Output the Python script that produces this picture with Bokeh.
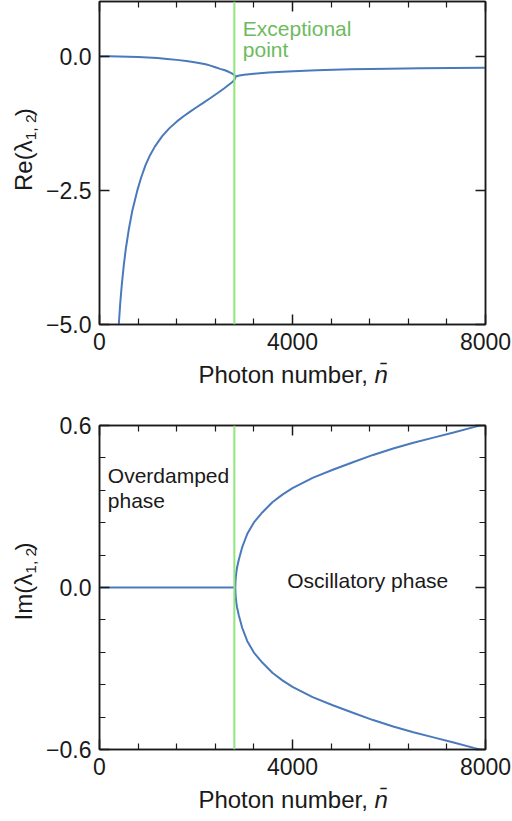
import math
from bokeh.plotting import figure
from bokeh.layouts import column, row
from bokeh.models import (Range1d, LinearAxis, FixedTicker, CustomJSTickFormatter, Span, Label,
                          CustomLabelingPolicy)
from bokeh.embed import file_html
from bokeh.resources import INLINE

# ---- data ----
x_major = [0, 4000, 8000]
x_minor = [800, 1600, 2400, 3200, 4800, 5600, 6400, 7200]
re_major = [-5.0, -2.5, 0.0]
im_major = [-0.6, 0.0, 0.6]
im_minor = [-0.48, -0.36, -0.24, -0.12, 0.12, 0.24, 0.36, 0.48]

exceptional_n = 2795

n_re_upper = [0, 200, 400, 600, 800, 1000, 1200, 1400, 1600, 1800, 2000, 2200, 2300, 2400, 2500,
              2600, 2650, 2700, 2740, 2770, 2790, 2805, 2812, 2815]
re_upper = [0.0, -0.001, -0.004, -0.009, -0.015, -0.024, -0.035, -0.05, -0.068, -0.09, -0.118, -0.15,
            -0.175, -0.205, -0.235, -0.262, -0.28, -0.30, -0.318, -0.335, -0.35, -0.364, -0.375, -0.39]

n_re_lower = [400, 430, 460, 504, 550, 607, 680, 781, 860, 954, 1050, 1150, 1300, 1450, 1611, 1750,
              1886, 2020, 2142, 2300, 2450, 2580, 2680, 2740, 2770, 2790, 2805, 2812, 2815]
re_lower = [-5.0, -4.60, -4.28, -3.89, -3.56, -3.23, -2.88, -2.51, -2.27, -2.03, -1.84, -1.68, -1.49,
            -1.34, -1.21, -1.113, -1.027, -0.947, -0.874, -0.779, -0.686, -0.601, -0.531, -0.49,
            -0.468, -0.448, -0.427, -0.41, -0.39]

n_re_post = [2815, 2830, 2860, 2900, 3000, 3200, 3500, 3900, 4500, 5200, 6000, 6650, 7300, 8000]
re_post = [-0.39, -0.378, -0.368, -0.36, -0.347, -0.325, -0.303, -0.284, -0.263, -0.245, -0.232,
           -0.224, -0.219, -0.215]

n_im_flat = [0, 2815]
im_flat = [0.0, 0.0]

n_im_osc = [2815, 2818, 2825, 2835, 2850, 2887, 2957, 3061, 3200, 3374, 3583, 3791, 4000, 4417, 4835,
            5252, 5670, 6087, 6505, 6922, 7339, 7757, 8000]
im_osc_upper = [0.0, 0.02, 0.038, 0.055, 0.073, 0.103, 0.149, 0.198, 0.241, 0.278, 0.316, 0.344, 0.368,
                0.406, 0.436, 0.464, 0.491, 0.515, 0.536, 0.555, 0.574, 0.594, 0.605]
im_osc_lower = [0.0, -0.02, -0.038, -0.055, -0.073, -0.103, -0.149, -0.198, -0.241, -0.278, -0.316,
                -0.344, -0.368, -0.406, -0.436, -0.464, -0.491, -0.515, -0.536, -0.555, -0.574,
                -0.594, -0.605]

# ---- styles ----
FONT = "Liberation Sans"
BLUE = "#4a7abb"
GREEN_LINE = "#90e67c"
GREEN_TEXT = "#6dbb5e"
INK = "#1a1a1a"
TICK_SIZE = "23px"
LABEL_SIZE = "24px"
SUB_SIZE = "15.5px"
NOTE_SIZE = "21px"
HALF_PI = math.pi / 2

fmt_x = CustomJSTickFormatter(code="return tick.toFixed(0);")
fmt_y = CustomJSTickFormatter(code="return (tick < 0 ? '\u2212' : '') + Math.abs(tick).toFixed(1);")
no_labels = CustomLabelingPolicy(code="for (const i of indices) { indices.unset(i) } return indices")


def style_axis(ax, labels=True):
    ax.major_tick_in = 10
    ax.major_tick_out = 0
    ax.minor_tick_in = 6
    ax.minor_tick_out = 0
    ax.axis_line_color = INK
    ax.axis_line_width = 1.5
    ax.major_tick_line_color = INK
    ax.major_tick_line_width = 1.5
    ax.minor_tick_line_color = INK
    ax.minor_tick_line_width = 1.2
    ax.major_label_text_font = FONT
    ax.major_label_text_font_size = TICK_SIZE
    ax.major_label_text_color = INK
    ax.axis_label = None
    ax.axis_label_standoff = 0
    if not labels:
        ax.major_label_policy = no_labels
        ax.major_label_text_font_size = "0px"
        ax.major_label_standoff = 0


def text(p, x, y, s, size, color=INK, align="left", angle=0.0, style="normal"):
    p.add_layout(Label(x=x, y=y, text=s, text_baseline="middle", text_align=align, angle=angle,
                       text_font=FONT, text_font_size=size, text_color=color, text_font_style=style))


def make_panel(height, border_top, border_bottom, y0, y1, y_ticks, y_minor):
    p = figure(width=472, height=height, x_range=Range1d(0, 8000), y_range=Range1d(y0, y1),
               output_backend="svg", toolbar_location=None,
               min_border_left=59, min_border_right=27,
               min_border_top=border_top, min_border_bottom=border_bottom)
    p.grid.visible = False
    p.outline_line_color = INK
    p.outline_line_width = 1.5
    p.background_fill_color = "white"
    p.border_fill_color = "white"

    xa = p.xaxis[0]
    xa.ticker = FixedTicker(ticks=x_major, minor_ticks=x_minor)
    xa.formatter = fmt_x
    style_axis(xa)
    xa.major_label_standoff = 8

    ya = p.yaxis[0]
    ya.ticker = FixedTicker(ticks=y_ticks, minor_ticks=y_minor)
    ya.formatter = fmt_y
    style_axis(ya)
    ya.major_label_standoff = 8

    top = LinearAxis(ticker=FixedTicker(ticks=x_major, minor_ticks=x_minor))
    style_axis(top, labels=False)
    p.add_layout(top, "above")
    right = LinearAxis(ticker=FixedTicker(ticks=y_ticks, minor_ticks=y_minor))
    style_axis(right, labels=False)
    p.add_layout(right, "right")

    p.add_layout(Span(location=exceptional_n, dimension="height", line_color=GREEN_LINE, line_width=2))
    return p


def label_box(width, height):
    # an empty canvas measured in pixels, used only to hold axis titles
    b = figure(width=width, height=height, x_range=Range1d(0, width), y_range=Range1d(0, height),
               output_backend="svg", toolbar_location=None, x_axis_type=None, y_axis_type=None,
               min_border=0)
    b.grid.visible = False
    b.outline_line_color = None
    b.background_fill_color = "white"
    b.border_fill_color = "white"
    return b


def x_title(width, height, y):
    b = label_box(width, height)
    text(b, 374, y, "Photon number, ", LABEL_SIZE, align="right")
    text(b, 374, y, "n\u0304", LABEL_SIZE, align="left", style="italic")
    return b


def y_title(height, name, y_anchor, y_close):
    b = label_box(40, height)
    text(b, 22.7, y_anchor, name + "(\u03bb", LABEL_SIZE, align="right", angle=HALF_PI)
    text(b, 29.6, y_anchor, "1, 2", SUB_SIZE, align="left", angle=HALF_PI)
    text(b, 22.7, y_close, ")", LABEL_SIZE, align="left", angle=HALF_PI)
    return b


# ---- top panel: real part ----
p1 = make_panel(359, 1, 35, -5.0, 1.02, re_major, [])
p1.line(n_re_upper, re_upper, line_color=BLUE, line_width=2)
p1.line(n_re_lower, re_lower, line_color=BLUE, line_width=2)
p1.line(n_re_post, re_post, line_color=BLUE, line_width=2)
text(p1, 2971, 0.524, "Exceptional", NOTE_SIZE, GREEN_TEXT)
text(p1, 2971, 0.124, "point", NOTE_SIZE, GREEN_TEXT)

# ---- bottom panel: imaginary part ----
p2 = make_panel(374, 15, 35, -0.6, 0.6, im_major, im_minor)
p2.line(n_im_flat, im_flat, line_color=BLUE, line_width=2)
p2.line(n_im_osc, im_osc_upper, line_color=BLUE, line_width=2)
p2.line(n_im_osc, im_osc_lower, line_color=BLUE, line_width=2)
text(p2, 172, 0.415, "Overdamped", NOTE_SIZE)
text(p2, 172, 0.322, "phase", NOTE_SIZE)
text(p2, 3890, 0.026, "Oscillatory phase", NOTE_SIZE)

layout = column(
    row(y_title(359, "Re", 204.7, 231.5), p1, spacing=0),
    x_title(512, 51, 36.5),
    row(y_title(374, "Im", 202.9, 229.8), p2, spacing=0),
    x_title(512, 37, 22),
    spacing=0,
)
open("out.html", "w").write(file_html(layout, INLINE))
